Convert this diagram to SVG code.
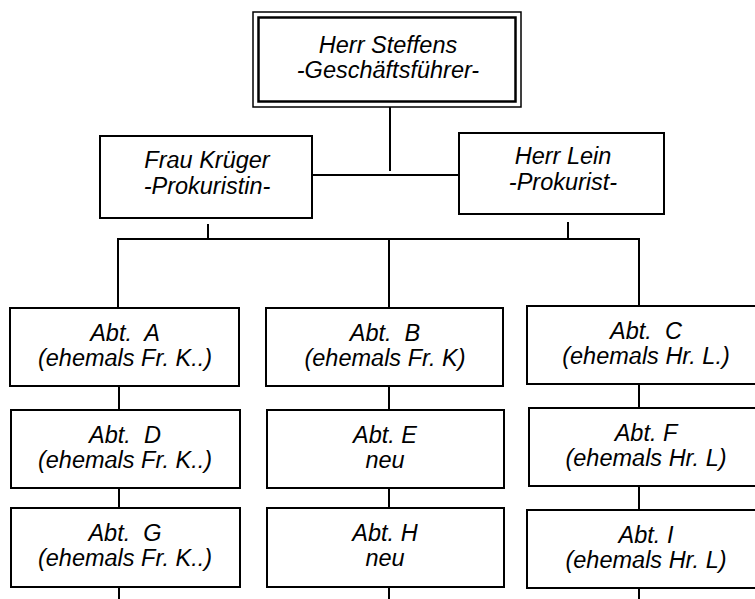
<svg xmlns="http://www.w3.org/2000/svg" width="755" height="599" viewBox="0 0 755 599">
<style>
.box{fill:#fff;stroke:#000;stroke-width:2}
.t{font-family:"Liberation Sans",Arial,sans-serif;font-style:italic;font-size:23.5px;fill:#000;text-anchor:middle}
.c{stroke:#000;stroke-width:2;fill:none}
</style>
<rect width="755" height="599" fill="#fff"/>
<g id="connectors">
<path class="c" d="M390 107V171M312 175H459M208 224V239M568 222V239M118 239H639M118 238V308M389 239V308M639 238V306"/>
<path class="c" d="M119 386V410M119 488V508M119 587V599"/>
<path class="c" d="M389 386V410M389 488V508M389 587V599"/>
<path class="c" d="M639 384V408M639 486V510M639 588V599"/>
</g>
<g id="steffens">
<rect x="253" y="12" width="268" height="95" fill="#fff" stroke="#000" stroke-width="1.5"/>
<rect x="258.5" y="17.5" width="257" height="84" fill="none" stroke="#000" stroke-width="2.5"/>
<text class="t" x="388" y="53">Herr Steffens</text>
<text class="t" x="388" y="78">-Geschäftsführer-</text>
</g>
<g id="krueger">
<rect class="box" x="100" y="136" width="212" height="82"/>
<text class="t" x="207" y="168">Frau Krüger</text>
<text class="t" x="207" y="194">-Prokuristin-</text>
</g>
<g id="lein">
<rect class="box" x="459" y="133" width="205" height="81"/>
<text class="t" x="563" y="164">Herr Lein</text>
<text class="t" x="563" y="190">-Prokurist-</text>
</g>
<g id="abtA">
<rect class="box" x="10" y="308" width="229" height="78"/>
<text class="t" x="125" y="341" xml:space="preserve">Abt.  A</text>
<text class="t" x="125" y="366">(ehemals Fr. K..)</text>
</g>
<g id="abtD">
<rect class="box" x="11" y="410" width="229" height="78"/>
<text class="t" x="125" y="443" xml:space="preserve">Abt.  D</text>
<text class="t" x="125" y="468">(ehemals Fr. K..)</text>
</g>
<g id="abtG">
<rect class="box" x="11" y="508" width="229" height="79"/>
<text class="t" x="125" y="541" xml:space="preserve">Abt.  G</text>
<text class="t" x="125" y="566">(ehemals Fr. K..)</text>
</g>
<g id="abtB">
<rect class="box" x="266" y="308" width="237" height="78"/>
<text class="t" x="385" y="341" xml:space="preserve">Abt.  B</text>
<text class="t" x="385" y="366">(ehemals Fr. K)</text>
</g>
<g id="abtE">
<rect class="box" x="267" y="410" width="237" height="78"/>
<text class="t" x="385" y="443">Abt. E</text>
<text class="t" x="385" y="468">neu</text>
</g>
<g id="abtH">
<rect class="box" x="267" y="508" width="237" height="79"/>
<text class="t" x="385" y="541">Abt. H</text>
<text class="t" x="385" y="566">neu</text>
</g>
<g id="abtC">
<rect class="box" x="527" y="306" width="240" height="78"/>
<text class="t" x="646" y="339" xml:space="preserve">Abt.  C</text>
<text class="t" x="646" y="364">(ehemals Hr. L.)</text>
</g>
<g id="abtF">
<rect class="box" x="529" y="408" width="240" height="78"/>
<text class="t" x="646" y="441">Abt. F</text>
<text class="t" x="646" y="466">(ehemals Hr. L)</text>
</g>
<g id="abtI">
<rect class="box" x="527" y="510" width="240" height="78"/>
<text class="t" x="646" y="543">Abt. I</text>
<text class="t" x="646" y="568">(ehemals Hr. L)</text>
</g>
</svg>
